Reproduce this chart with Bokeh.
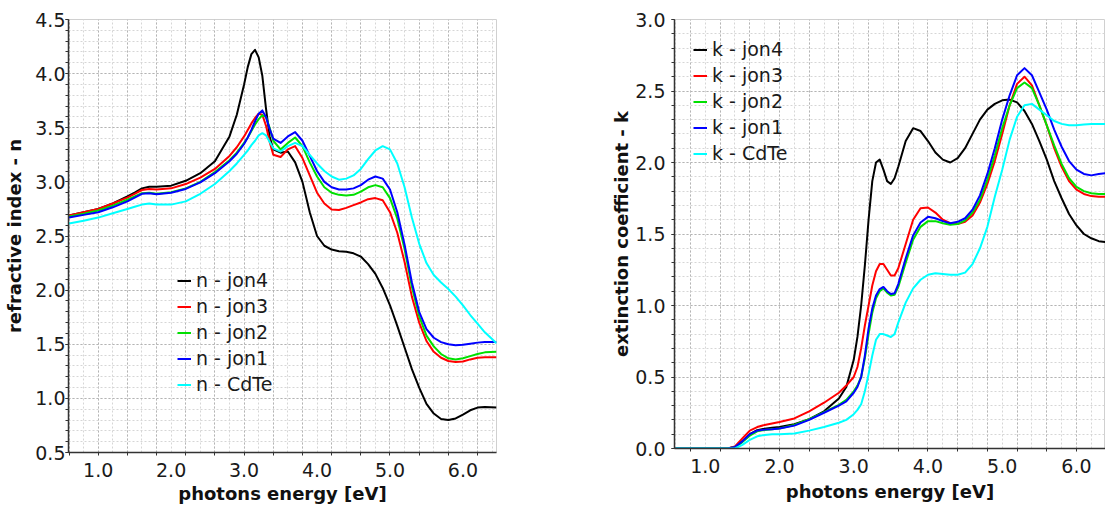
from bokeh.plotting import figure
from bokeh.models import FixedTicker, Range1d
from bokeh.layouts import row, column
from bokeh.embed import file_html
from bokeh.resources import INLINE

# ---------------- data: refractive index n ----------------
E_n = [0.6, 0.8, 1.0, 1.2, 1.4, 1.5, 1.6, 1.7, 1.8, 2.0, 2.2, 2.4, 2.6, 2.8, 2.9,
       3.0, 3.05, 3.1, 3.15, 3.2, 3.25, 3.3, 3.35, 3.4, 3.5, 3.6, 3.7, 3.8, 3.9,
       4.0, 4.1, 4.2, 4.3, 4.4, 4.5, 4.6, 4.7, 4.8, 4.9, 5.0, 5.1, 5.2, 5.3, 5.4,
       5.5, 5.6, 5.7, 5.8, 5.9, 6.0, 6.1, 6.2, 6.3, 6.46]

n_jon4 = [2.69, 2.72, 2.75, 2.80, 2.865, 2.90, 2.94, 2.955, 2.955, 2.965, 3.01, 3.08, 3.19, 3.42, 3.62,
          3.90, 4.06, 4.18, 4.22, 4.15, 3.98, 3.68, 3.42, 3.30, 3.27, 3.28, 3.18, 3.00, 2.72,
          2.50, 2.41, 2.375, 2.36, 2.355, 2.34, 2.31, 2.24, 2.15, 2.02, 1.86, 1.67, 1.47, 1.27, 1.10,
          0.95, 0.86, 0.81, 0.80, 0.815, 0.85, 0.89, 0.915, 0.92, 0.915]

n_jon3 = [2.69, 2.72, 2.75, 2.80, 2.855, 2.89, 2.925, 2.935, 2.93, 2.94, 2.98, 3.04, 3.12, 3.24, 3.32,
          3.42, 3.48, 3.54, 3.59, 3.63, 3.62, 3.52, 3.37, 3.25, 3.23, 3.30, 3.33, 3.22, 3.06,
          2.90, 2.80, 2.745, 2.74, 2.76, 2.785, 2.81, 2.84, 2.85, 2.83, 2.72, 2.53, 2.26, 1.94, 1.70,
          1.53, 1.43, 1.375, 1.345, 1.335, 1.34, 1.36, 1.375, 1.38, 1.38]

n_jon2 = [2.68, 2.705, 2.735, 2.78, 2.835, 2.865, 2.895, 2.90, 2.89, 2.905, 2.94, 3.00, 3.09, 3.20, 3.27,
          3.36, 3.41, 3.47, 3.53, 3.58, 3.615, 3.60, 3.50, 3.38, 3.30, 3.36, 3.41, 3.33, 3.18,
          3.05, 2.95, 2.90, 2.88, 2.875, 2.88, 2.91, 2.95, 2.97, 2.95, 2.85, 2.66, 2.38, 2.03, 1.76,
          1.58, 1.48, 1.41, 1.37, 1.36, 1.37, 1.39, 1.41, 1.425, 1.43]

n_jon1 = [2.67, 2.695, 2.72, 2.765, 2.82, 2.855, 2.89, 2.895, 2.885, 2.90, 2.935, 2.995, 3.08, 3.19, 3.26,
          3.35, 3.41, 3.48, 3.56, 3.63, 3.66, 3.60, 3.49, 3.40, 3.36, 3.42, 3.46, 3.38, 3.24,
          3.10, 3.00, 2.95, 2.93, 2.93, 2.94, 2.97, 3.02, 3.05, 3.03, 2.93, 2.72, 2.42, 2.07, 1.80,
          1.64, 1.56, 1.52, 1.50, 1.49, 1.495, 1.505, 1.515, 1.52, 1.52]

n_cdte = [2.615, 2.64, 2.67, 2.71, 2.75, 2.77, 2.79, 2.80, 2.79, 2.79, 2.82, 2.89, 2.98, 3.10, 3.17,
          3.25, 3.29, 3.34, 3.38, 3.43, 3.45, 3.43, 3.37, 3.31, 3.28, 3.33, 3.36, 3.33, 3.25,
          3.17, 3.10, 3.05, 3.02, 3.03, 3.06, 3.12, 3.21, 3.29, 3.33, 3.30, 3.17, 2.95, 2.67, 2.43,
          2.25, 2.14, 2.07, 2.01, 1.94, 1.86, 1.77, 1.69, 1.61, 1.51]

# ---------------- data: extinction coefficient k ----------------
E_k = [0.6, 1.0, 1.3, 1.4, 1.5, 1.6, 1.7, 1.8, 1.9, 2.0, 2.2, 2.4, 2.6, 2.8, 2.9, 3.0,
       3.05, 3.1, 3.15, 3.2, 3.25, 3.3, 3.35, 3.4, 3.45, 3.5, 3.55, 3.6, 3.7, 3.8, 3.9,
       4.0, 4.1, 4.2, 4.3, 4.4, 4.5, 4.6, 4.7, 4.8, 4.9, 5.0, 5.1, 5.2, 5.3, 5.4, 5.5,
       5.6, 5.7, 5.8, 5.9, 6.0, 6.1, 6.2, 6.3, 6.46]

k_jon4 = [0.0, 0.0, 0.0, 0.01, 0.05, 0.10, 0.128, 0.138, 0.145, 0.15, 0.17, 0.205, 0.26, 0.35, 0.43, 0.62,
          0.78, 1.0, 1.28, 1.60, 1.87, 2.0, 2.02, 1.95, 1.87, 1.85, 1.89, 1.97, 2.15, 2.24, 2.22,
          2.15, 2.07, 2.02, 2.00, 2.03, 2.10, 2.20, 2.30, 2.37, 2.41, 2.435, 2.44, 2.42, 2.36, 2.27, 2.15,
          2.02, 1.87, 1.75, 1.64, 1.56, 1.50, 1.47, 1.45, 1.44]

k_jon3 = [0.0, 0.0, 0.0, 0.015, 0.07, 0.125, 0.15, 0.165, 0.175, 0.185, 0.21, 0.26, 0.32, 0.39, 0.44, 0.50,
          0.57, 0.70, 0.86, 1.0, 1.14, 1.24, 1.29, 1.29, 1.25, 1.21, 1.21, 1.26, 1.43, 1.60, 1.68,
          1.685, 1.65, 1.60, 1.575, 1.57, 1.585, 1.63, 1.72, 1.85, 2.01, 2.20, 2.40, 2.55, 2.60, 2.54, 2.40,
          2.26, 2.10, 1.97, 1.87, 1.81, 1.78, 1.765, 1.76, 1.76]

k_jon2 = [0.0, 0.0, 0.0, 0.008, 0.045, 0.09, 0.12, 0.13, 0.135, 0.14, 0.165, 0.205, 0.255, 0.305, 0.34, 0.40,
          0.44, 0.50, 0.63, 0.80, 0.95, 1.05, 1.10, 1.12, 1.09, 1.07, 1.075, 1.13, 1.30, 1.46, 1.55,
          1.59, 1.59, 1.575, 1.565, 1.57, 1.595, 1.65, 1.74, 1.88, 2.05, 2.24, 2.40, 2.52, 2.56, 2.52, 2.40,
          2.26, 2.12, 1.99, 1.89, 1.83, 1.80, 1.785, 1.78, 1.78]

k_jon1 = [0.0, 0.0, 0.0, 0.01, 0.05, 0.10, 0.125, 0.132, 0.135, 0.14, 0.16, 0.20, 0.25, 0.30, 0.33, 0.39,
          0.43, 0.50, 0.65, 0.84, 0.98, 1.07, 1.115, 1.13, 1.10, 1.08, 1.085, 1.15, 1.33, 1.49, 1.58,
          1.62, 1.61, 1.59, 1.575, 1.585, 1.61, 1.67, 1.77, 1.92, 2.10, 2.30, 2.47, 2.61, 2.66, 2.61, 2.49,
          2.37, 2.23, 2.11, 2.01, 1.95, 1.92, 1.91, 1.92, 1.93]

k_cdte = [0.0, 0.0, 0.0, 0.0, 0.025, 0.06, 0.085, 0.095, 0.10, 0.10, 0.105, 0.125, 0.15, 0.18, 0.20, 0.24,
          0.27, 0.31, 0.40, 0.52, 0.65, 0.76, 0.80, 0.80, 0.79, 0.78, 0.80, 0.88, 1.02, 1.12, 1.18,
          1.215, 1.225, 1.22, 1.215, 1.215, 1.23, 1.29, 1.40, 1.55, 1.76, 1.95, 2.16, 2.32, 2.40, 2.41, 2.37,
          2.33, 2.29, 2.27, 2.26, 2.26, 2.265, 2.27, 2.27, 2.27]

series_names = ["jon4", "jon3", "jon2", "jon1", "CdTe"]
colors = ["#000000", "#ff0000", "#00e000", "#0000ff", "#00ffff"]

x_labels_ticks = [1.0, 2.0, 3.0, 4.0, 5.0, 6.0]
n_ticks = [0.5, 1.0, 1.5, 2.0, 2.5, 3.0, 3.5, 4.0, 4.5]
k_ticks = [0.0, 0.5, 1.0, 1.5, 2.0, 2.5, 3.0]

FONT = "DejaVu Sans"


def style(p, x_marks, x_minor, y_ticks, y_minor, xlab, ylab, y_lab_standoff, y_tick_standoff, x_lab_standoff):
    p.background_fill_color = "white"
    p.border_fill_color = "white"
    p.outline_line_color = "#d0d0d0"
    p.outline_line_width = 1

    p.xaxis.ticker = FixedTicker(ticks=x_labels_ticks, minor_ticks=x_marks)
    p.yaxis.ticker = FixedTicker(ticks=y_ticks, minor_ticks=y_minor)
    for ax in (p.xaxis[0], p.yaxis[0]):
        ax.axis_line_color = "#333333"
        ax.axis_line_width = 1.5
        ax.major_tick_line_color = "#333333"
        ax.minor_tick_line_color = "#333333"
        ax.major_tick_in = 0
        ax.minor_tick_in = 0
        ax.major_label_text_font = FONT
        ax.major_label_text_font_size = "19px"
        ax.major_label_text_color = "#1a1a1a"
        ax.axis_label_text_font = FONT
        ax.axis_label_text_font_size = "18px"
        ax.axis_label_text_font_style = "bold"
        ax.axis_label_text_color = "#111111"
    p.xaxis.major_tick_out = 0
    p.xaxis.minor_tick_out = 3
    p.xaxis.major_label_standoff = 7
    p.xaxis.axis_label_standoff = x_lab_standoff
    p.yaxis.major_tick_out = 3
    p.yaxis.minor_tick_out = 3
    p.yaxis.major_label_standoff = y_tick_standoff
    p.yaxis.axis_label_standoff = y_lab_standoff
    p.xaxis.axis_label = xlab
    p.yaxis.axis_label = ylab
    p.xaxis.major_label_overrides = {v: f"{v:.1f}" for v in x_labels_ticks}
    p.yaxis.major_label_overrides = {v: f"{v:.1f}" for v in y_ticks}

    p.xgrid.ticker = FixedTicker(ticks=x_marks, minor_ticks=x_minor)
    p.ygrid.ticker = FixedTicker(ticks=y_ticks, minor_ticks=y_minor)
    for g in (p.xgrid[0], p.ygrid[0]):
        g.grid_line_color = "#b4b4b4"
        g.grid_line_dash = "2 2"
        g.grid_line_width = 1
        g.minor_grid_line_color = "#d6d6d6"
        g.minor_grid_line_dash = "2 2"
        g.minor_grid_line_width = 1


def style_legend(p, loc):
    lg = p.legend[0]
    lg.location = loc
    lg.background_fill_alpha = 0
    lg.border_line_alpha = 0
    lg.padding = 0
    lg.margin = 0
    lg.spacing = 4
    lg.glyph_width = 14
    lg.glyph_height = 21
    lg.label_height = 21
    lg.label_standoff = 5
    lg.label_text_font = FONT
    lg.label_text_font_size = "19px"
    lg.label_text_color = "#1a1a1a"


# ---------------- left: n ----------------
p1 = figure(width=548, height=506, output_backend="svg", toolbar_location=None,
            x_range=Range1d(0.593, 6.46), y_range=Range1d(0.5, 4.5),
            min_border_left=68, min_border_right=52, min_border_top=19, min_border_bottom=52)
n_series = [n_jon4, n_jon3, n_jon2, n_jon1, n_cdte]
for name, col, ys in zip(series_names, colors, n_series):
    p1.line(E_n, ys, line_color=col, line_width=2, line_join="round", legend_label=f"n - {name}")

x_marks_left = [round(0.6 + 0.4 * i, 1) for i in range(15)]
x_minor = [round(0.6 + 0.2 * i, 1) for i in range(30)]
n_minor = [round(0.5 + 0.1 * i, 1) for i in range(41)]
style(p1, x_marks_left, x_minor, n_ticks, n_minor,
      "photons energy [eV]", "refractive index - n", 7, 0, 3)
style_legend(p1, (109, 57))

# ---------------- right: k ----------------
p2 = figure(width=557, height=506, output_backend="svg", toolbar_location=None,
            x_range=Range1d(0.586, 6.391), y_range=Range1d(0.0, 3.0),
            min_border_left=126, min_border_right=0, min_border_top=19, min_border_bottom=58)
k_series = [k_jon4, k_jon3, k_jon2, k_jon1, k_cdte]
for name, col, ys in zip(series_names, colors, k_series):
    p2.line(E_k, ys, line_color=col, line_width=2, line_join="round", legend_label=f"k - {name}")

x_marks_right = [round(0.8 + 0.4 * i, 1) for i in range(14)]
k_minor = [round(0.1 * i, 1) for i in range(31)]
style(p2, x_marks_right, x_minor, k_ticks, k_minor,
      "photons energy [eV]", "extinction coefficient - k", 0, 6, 5)
style_legend(p2, (19, 284))

layout = row(column(p1), column(p2))
open("out.html", "w").write(file_html(layout, INLINE))
